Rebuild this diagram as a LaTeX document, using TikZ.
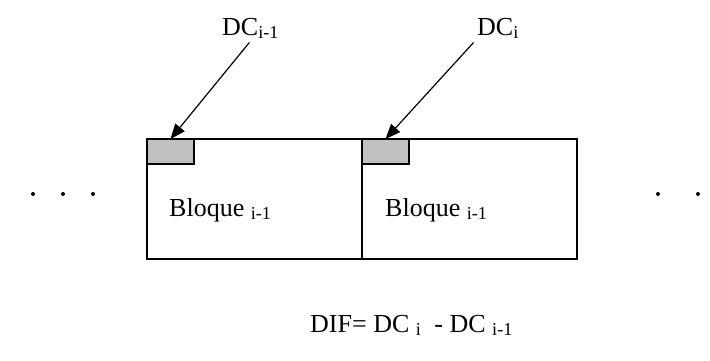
\documentclass[tikz,border=0pt]{standalone}
\usepackage{fontspec}
\setmainfont{Liberation Serif}
\usetikzlibrary{arrows.meta}
\definecolor{dcgray}{RGB}{192,192,192}
\tikzset{
	bloque/.style={draw, line width=1.2pt, minimum width=215pt, minimum height=120pt, inner sep=0pt, outer sep=0pt, anchor=north west},
	dcbox/.style={draw, fill=dcgray, line width=1.2pt, minimum width=47pt, minimum height=25pt, inner sep=0pt, outer sep=0pt, anchor=north west},
	etiq/.style={font=\fontsize{26}{30}\selectfont, inner sep=2pt},
	flecha/.style={line width=1.2pt, shorten <=2pt, -{Triangle[length=15pt,width=12pt]}}
}

\begin{document}
\begin{tikzpicture}[x=1pt,y=-1pt]
	\useasboundingbox (0,0) rectangle (710,360);
			\node[bloque] (b1) at (147,139) {};
			\node[bloque] (b2) at (362,139) {};
			\node[dcbox] (dc1) at (b1.north west) {};
			\node[dcbox] (dc2) at (b2.north west) {};
			\node[etiq, anchor=base west] (t1) at (167,216) {Bloque \textsubscript{i-1}};
			\node[etiq, anchor=base west] (t2) at (383,216) {Bloque \textsubscript{i-1}};
			\node[etiq, anchor=base west] (l1) at (220,35) {DC\textsubscript{i-1}};
			\node[etiq, anchor=base west] (l2) at (475,35) {DC\textsubscript{i}};
			\draw[flecha] (l1.south) -- (dc1.north);
			\draw[flecha] (l2.south west) -- (dc2.north);
			\foreach \x in {33,63,93}
				\fill (\x,194) circle (2);
			\foreach \x in {658,698}
				\fill (\x,194) circle (2);
			\node[etiq, anchor=base west] (dif) at (308,332) {DIF= DC \textsubscript{i}\ \ - DC \textsubscript{i-1}};
	\end{tikzpicture}
\end{document}
